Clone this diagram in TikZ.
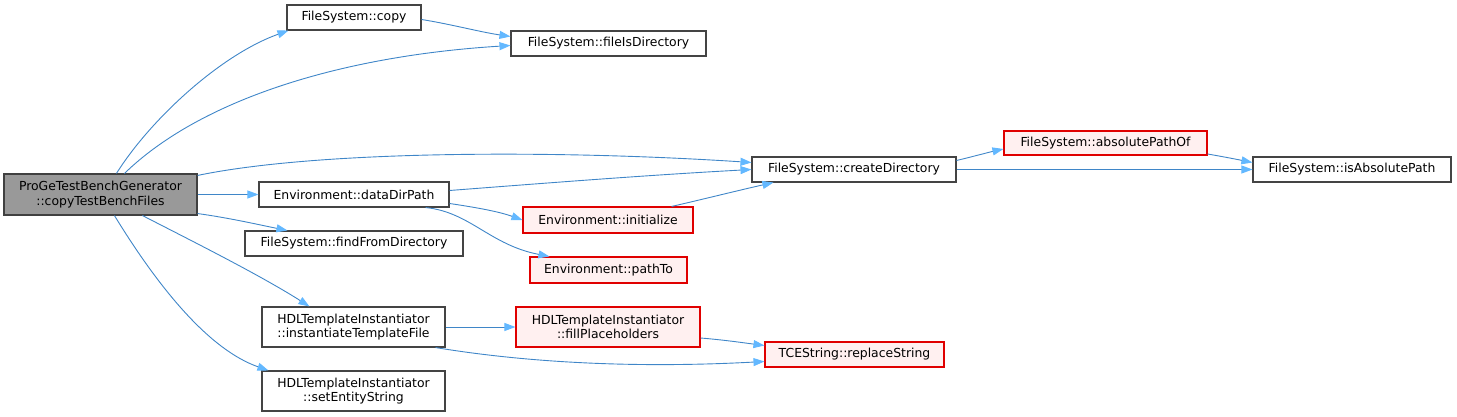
\documentclass[tikz,border=0pt]{standalone}
\usepackage{fontspec}
\setmainfont{DejaVu Sans}
\usetikzlibrary{arrows.meta,calc}
\definecolor{edgeblue}{HTML}{63B8FF}
\definecolor{edgeline}{HTML}{3F86C8}
\definecolor{redfill}{HTML}{FFF0F0}
\definecolor{redline}{HTML}{E00000}
\definecolor{grayline}{HTML}{444444}
\definecolor{mainfill}{HTML}{999999}
\begin{document}
\begin{tikzpicture}[x=1pt,y=-1pt,
  box/.style={draw=grayline,fill=white,line width=1.1pt,inner sep=0pt,font=\fontsize{12.4}{14.5}\selectfont,align=center},
  redbox/.style={box,draw=redline,fill=redfill},
  mainbox/.style={box,fill=mainfill,draw=black!75},
  edge/.style={draw=edgeline,line width=0.9pt,-{Triangle[length=11pt,width=8pt,fill=edgeblue,color=edgeblue]}}]
\useasboundingbox (0,0) rectangle (1457,417);
% nodes (centre, size)
\node[mainbox,minimum width=193,minimum height=41] (main) at (100.5,194.5) {ProGeTestBenchGenerator\\::copyTestBenchFiles};
\node[box,minimum width=134,minimum height=25] (copy) at (354,17.5) {FileSystem::copy};
\node[box,minimum width=195,minimum height=25] (fid) at (608.5,43.5) {FileSystem::fileIsDirectory};
\node[box,minimum width=204,minimum height=25] (cd) at (854,169.5) {FileSystem::createDirectory};
\node[redbox,minimum width=203,minimum height=24] (apo) at (1105.5,143) {FileSystem::absolutePathOf};
\node[box,minimum width=198,minimum height=25] (iap) at (1352,169.5) {FileSystem::isAbsolutePath};
\node[box,minimum width=190,minimum height=25] (ddp) at (354,194.5) {Environment::dataDirPath};
\node[redbox,minimum width=170,minimum height=26] (init) at (608,220) {Environment::initialize};
\node[box,minimum width=218,minimum height=25] (ffd) at (354,243.5) {FileSystem::findFromDirectory};
\node[redbox,minimum width=157,minimum height=26] (pt) at (608.5,270) {Environment::pathTo};
\node[box,minimum width=183,minimum height=40] (itf) at (353.5,327) {HDLTemplateInstantiator\\::instantiateTemplateFile};
\node[redbox,minimum width=184,minimum height=40] (fp) at (608,327) {HDLTemplateInstantiator\\::fillPlaceholders};
\node[redbox,minimum width=179,minimum height=25] (rs) at (854.5,354.5) {TCEString::replaceString};
\node[box,minimum width=183,minimum height=40] (ses) at (353.5,391) {HDLTemplateInstantiator\\::setEntityString};
% edges
\draw[edge] ($(main.north west)+(113,0)$) .. controls (150,120) and (220,55) .. ($(copy.south west)+(2,0)$);
\draw[edge] ($(main.north west)+(121,0)$) .. controls (200,100) and (340,56) .. ($(fid.west)+(0,2)$);
\draw[edge] ($(copy.east)+(0,2)$) .. controls (450,24) and (480,32) .. ($(fid.west)+(0,-7)$);
\draw[edge] ($(main.north east)+(0,2)$) .. controls (320,150) and (560,150) .. ($(cd.west)+(0,-7)$);
\draw[edge] (main.east |- ddp.west) -- (ddp.west);
\draw[edge] ($(main.south east)+(0,-2)$) .. controls (230,218) and (260,225) .. ($(ffd.north west)+(43,0)$);
\draw[edge] ($(main.south west)+(139,0)$) .. controls (190,240) and (260,275) .. ($(itf.north west)+(48,0)$);
\draw[edge] ($(main.south west)+(111,0)$) .. controls (160,290) and (210,350) .. ($(ses.north west)+(7,0)$);
\draw[edge] ($(ddp.east)+(0,-4)$) .. controls (560,182) and (650,175) .. ($(cd.west)+(0,0)$);
\draw[edge] ($(ddp.east)+(0,9)$) .. controls (480,208) and (500,212) .. (init.west);
\draw[edge] ($(ddp.south east)+(-24,0)$) .. controls (470,212) and (490,245) .. ($(pt.north west)+(20,0)$);
\draw[edge] ($(init.north east)+(-22,0)$) .. controls (700,200) and (740,190) .. ($(cd.south west)+(22,0)$);
\draw[edge] ($(cd.east)+(0,-9)$) .. controls (975,156) and (990,152) .. ($(apo.west)+(0,6)$);
\draw[edge] (cd.east) -- (iap.west);
\draw[edge] ($(apo.east)+(0,11)$) .. controls (1225,157) and (1240,160) .. ($(iap.west)+(0,-7)$);
\draw[edge] (itf.east) -- (fp.west);
\draw[edge] ($(itf.south east)+(-10,0)$) .. controls (560,368) and (680,366) .. ($(rs.west)+(0,7)$);
\draw[edge] ($(fp.east)+(0,11)$) .. controls (725,340) and (745,343) .. ($(rs.west)+(0,-9)$);
\end{tikzpicture}
\end{document}
